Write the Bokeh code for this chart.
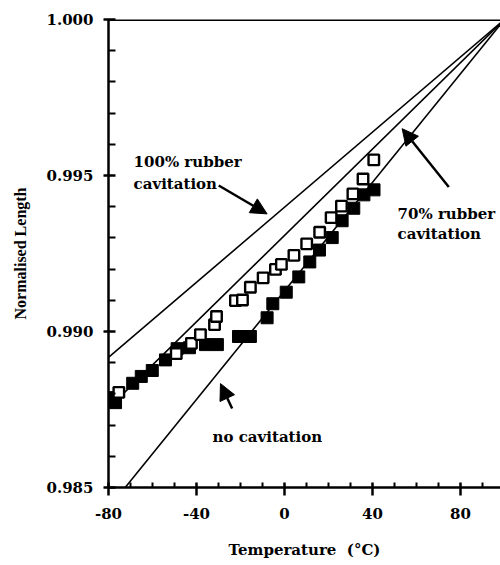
from bokeh.plotting import figure
from bokeh.models import (Range1d, FixedTicker, PrintfTickFormatter, Span, Arrow,
                          NormalHead, ColumnDataSource)
from bokeh.core.properties import value
from bokeh.embed import file_html
from bokeh.resources import INLINE

# ---- data ----
filled_T = [-78.6, -76.8, -69.0, -65.1, -60.1, -54.1, -48.8, -43.2, -35.9, -30.5,
            -20.9, -15.5, -7.9, -5.3, 0.8, 6.5, 11.5, 15.9, 21.7, 26.2, 31.5, 36.1, 40.7]
filled_L = [0.98788, 0.98772, 0.98834, 0.98856, 0.98875, 0.98909, 0.98945, 0.98948,
            0.98958, 0.98958, 0.98984, 0.98984, 0.99044, 0.99089, 0.99126, 0.99175,
            0.99223, 0.99261, 0.99301, 0.99355, 0.99395, 0.99438, 0.99454]

open_T = [-75.3, -49.2, -42.3, -38.2, -31.8, -30.9, -22.3, -19.1, -15.5, -9.7, -4.1,
          -1.4, 4.3, 10.1, 16.0, 21.2, 25.9, 31.1, 35.7, 40.6]
open_L = [0.98805, 0.98929, 0.98962, 0.98990, 0.99022, 0.99048, 0.99099, 0.99101,
          0.99142, 0.99172, 0.99199, 0.99215, 0.99244, 0.99281, 0.99318, 0.99365,
          0.99402, 0.99441, 0.99489, 0.99550]

line_T = [-80, 100]
line_100 = [0.98917, 1.0]     # 100% rubber cavitation
line_70 = [0.98754, 1.0]      # 70% rubber cavitation
line_none = [0.98434, 1.0]    # no cavitation

x_ticks = [-80, -40, 0, 40, 80]
x_minor = [-70, -60, -50, -30, -20, -10, 10, 20, 30, 50, 60, 70, 90]
y_ticks = [0.985, 0.990, 0.995, 1.000]
y_minor = [0.986, 0.987, 0.988, 0.989, 0.991, 0.992, 0.993, 0.994,
           0.996, 0.997, 0.998, 0.999]

label_text = ["100% rubber", "cavitation", "70% rubber", "cavitation", "no cavitation"]
label_T = [-68.6, -68.6, 51.4, 51.4, -32.7]
label_L = [0.99542, 0.99474, 0.99378, 0.99314, 0.98663]

arrow_T0 = [-29.9, 74.7, -23.8]
arrow_L0 = [0.99468, 0.99463, 0.98753]
arrow_T1 = [-7.9, 53.5, -29.1]
arrow_L1 = [0.99377, 0.99650, 0.98833]

SERIF_B = "DejaVu Serif"

p = figure(width=500, height=556, output_backend="svg", toolbar_location=None,
           x_range=Range1d(-80, 98.2), y_range=Range1d(0.985, 1.0),
           min_border_left=108, min_border_right=0, min_border_top=19,
           min_border_bottom=69, frame_width=392, frame_height=468)
p.outline_line_color = None
p.grid.visible = False
p.background_fill_color = "white"
p.border_fill_color = "white"

# axes
xa = p.xaxis[0]
xa.ticker = FixedTicker(ticks=x_ticks, minor_ticks=x_minor)
xa.formatter = PrintfTickFormatter(format="%d")
ya = p.yaxis[0]
ya.ticker = FixedTicker(ticks=y_ticks, minor_ticks=y_minor)
ya.formatter = PrintfTickFormatter(format="%.3f")
for ax in (xa, ya):
    ax.axis_line_width = 2.5
    ax.axis_line_color = "black"
    ax.major_tick_line_width = 2.5
    ax.minor_tick_line_width = 2
    ax.major_tick_line_color = "black"
    ax.minor_tick_line_color = "black"
    ax.major_label_text_font = SERIF_B
    ax.major_label_text_font_style = "bold"
    ax.major_label_text_font_size = "15px"
    ax.major_label_text_color = "black"
    ax.axis_label_text_color = "black"
    ax.minor_tick_out = 0
xa.major_tick_in = 5
xa.major_tick_out = 8
xa.minor_tick_in = 5
xa.major_label_standoff = 12
xa.axis_label = "Temperature\u00a0\u00a0(°C)"
xa.axis_label_text_font = SERIF_B
xa.axis_label_text_font_style = "bold"
xa.axis_label_text_font_size = "15px"
xa.axis_label_standoff = 19

ya.major_tick_in = 7
ya.major_tick_out = 5
ya.minor_tick_in = 7
ya.major_label_standoff = 10
ya.axis_label = "Normalised Length"
ya.axis_label_text_font = "Liberation Serif"
ya.axis_label_text_font_style = "bold"
ya.axis_label_text_font_size = "16px"
ya.axis_label_standoff = 15

# top frame line
p.add_layout(Span(location=1.0, dimension="width", line_color="black", line_width=3))

# model lines
for ys in (line_100, line_70, line_none):
    p.line(line_T, ys, line_color="black", line_width=1.6)

# data
p.scatter(filled_T, filled_L, marker="square", size=12, fill_color="black",
          line_color="black", line_width=1)
p.scatter(open_T, open_L, marker="square", size=10.5, fill_color="white",
          line_color="black", line_width=2.4)

# labels
lab = ColumnDataSource(dict(x=label_T, y=label_L, t=label_text))
p.text(x="x", y="y", text="t", source=lab, text_font=value(SERIF_B),
       text_font_style="bold", text_font_size="15px", text_color="black",
       text_baseline="alphabetic", text_align="left")

# arrows
arr = ColumnDataSource(dict(x0=arrow_T0, y0=arrow_L0, x1=arrow_T1, y1=arrow_L1))
p.add_layout(Arrow(source=arr, x_start="x0", y_start="y0", x_end="x1", y_end="y1",
                   line_width=2.5, line_color="black",
                   end=NormalHead(size=16, fill_color="black", line_color="black")))

open("out.html", "w").write(file_html(p, INLINE))
